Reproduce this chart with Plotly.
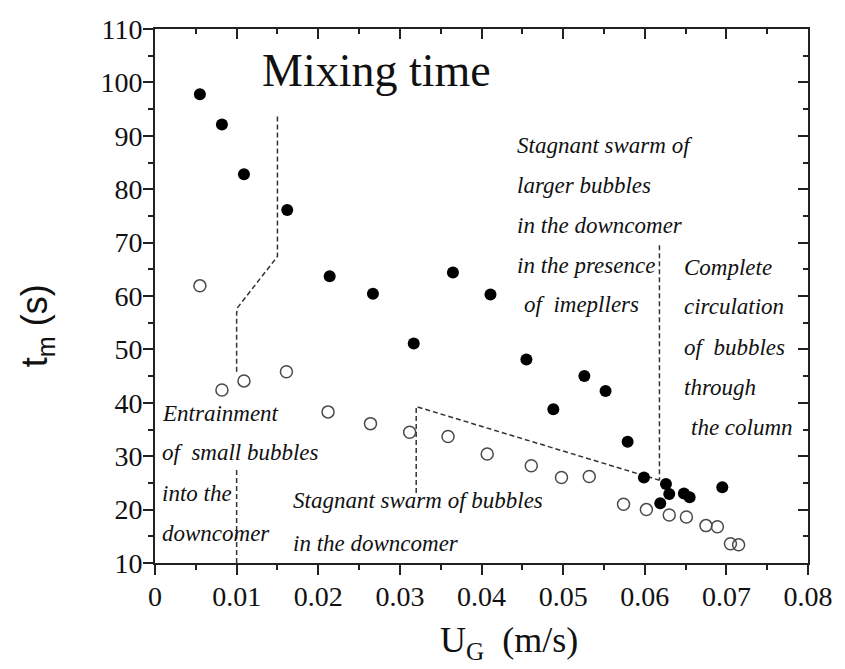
import plotly.graph_objects as go

# ---- data ----
ug_filled = [0.0055, 0.0082, 0.0109, 0.0162, 0.0214, 0.0267, 0.0317, 0.0365, 0.0411, 0.0455,
             0.0488, 0.0526, 0.0552, 0.0579, 0.0599, 0.0619, 0.0626, 0.0630, 0.0648, 0.0655, 0.0695]
tm_filled = [97.8, 92.1, 82.8, 76.1, 63.7, 60.4, 51.1, 64.4, 60.3, 48.1,
             38.8, 45.0, 42.2, 32.7, 26.0, 21.2, 24.8, 22.9, 23.0, 22.3, 24.2]

ug_open = [0.0055, 0.0082, 0.0109, 0.0161, 0.0212, 0.0264, 0.0312, 0.0359, 0.0407, 0.0461,
           0.0498, 0.0532, 0.0574, 0.0602, 0.0630, 0.0651, 0.0675, 0.0689, 0.0705, 0.0715]
tm_open = [61.9, 42.4, 44.1, 45.8, 38.3, 36.1, 34.5, 33.7, 30.4, 28.2,
           26.0, 26.2, 21.0, 20.0, 19.0, 18.6, 17.0, 16.8, 13.6, 13.4]

# regime boundary guide lines (data coordinates)
guide1_x = [0.0150, 0.0150, 0.0101, 0.0100, 0.0100]
guide1_y = [93.6, 67.4, 57.8, 56.8, 45.6]
guide1b_x = [0.0100, 0.0100]
guide1b_y = [27.4, 10.0]
guide2_x = [0.0320, 0.0320, 0.0618]
guide2_y = [23.1, 39.3, 25.5]
guide3_x = [0.0618, 0.0618]
guide3_y = [69.5, 25.5]

x_range = [0, 0.08]
y_range = [10, 110]

fig = go.Figure()

dash_style = dict(color="#333", width=1.5, dash="5px,3px")
for gx, gy in [(guide1_x, guide1_y), (guide1b_x, guide1b_y), (guide2_x, guide2_y), (guide3_x, guide3_y)]:
    fig.add_trace(go.Scatter(x=gx, y=gy, mode="lines", line=dash_style,
                             showlegend=False, hoverinfo="skip"))

fig.add_trace(go.Scatter(x=ug_open, y=tm_open, mode="markers",
                         marker=dict(symbol="circle-open", size=12, color="#4a4a4a",
                                     line=dict(width=1.5, color="#4a4a4a")),
                         showlegend=False))
fig.add_trace(go.Scatter(x=ug_filled, y=tm_filled, mode="markers",
                         marker=dict(symbol="circle", size=12, color="black"),
                         showlegend=False))
# dummy trace for mirrored (top/right) axes
fig.add_trace(go.Scatter(x=[None], y=[None], xaxis="x2", yaxis="y2",
                         showlegend=False, hoverinfo="skip"))

L, R, T, B = 155, 25, 29, 106
W, H = 845, 669
PW, PH = W - L - R, H - T - B


def pp(px, py):
    return (px - L) / PW, (H - B - py) / PH


tick_font = dict(family="Liberation Serif", size=28, color="#111")
axis_common = dict(showgrid=False, zeroline=False, showline=True, linewidth=2, linecolor="#222")

fig.update_layout(
    width=W, height=H,
    margin=dict(l=L, r=R, t=T, b=B),
    paper_bgcolor="white", plot_bgcolor="white",
    xaxis=dict(range=x_range, dtick=0.01, tick0=0, ticks="outside", ticklen=10, tickwidth=2,
               tickcolor="#222", tickfont=tick_font, ticklabelstandoff=-3,
               minor=dict(dtick=0.005, ticks="outside", ticklen=5, tickwidth=2, tickcolor="#222"),
               **axis_common),
    yaxis=dict(range=y_range, dtick=10, tick0=10, ticks="outside", ticklen=10, tickwidth=2,
               tickcolor="#222", tickfont=tick_font, ticklabelstandoff=-5,
               minor=dict(dtick=5, ticks="outside", ticklen=5, tickwidth=2, tickcolor="#222"),
               **axis_common),
    xaxis2=dict(range=x_range, overlaying="x", side="top", dtick=0.01, tick0=0, ticks="inside",
                ticklen=10, tickwidth=2, tickcolor="#222", showticklabels=False,
                minor=dict(dtick=0.005, ticks="inside", ticklen=5, tickwidth=2, tickcolor="#222"),
                **axis_common),
    yaxis2=dict(range=y_range, overlaying="y", side="right", dtick=10, tick0=10, ticks="inside",
                ticklen=10, tickwidth=2, tickcolor="#222", showticklabels=False,
                minor=dict(dtick=5, ticks="inside", ticklen=5, tickwidth=2, tickcolor="#222"),
                **axis_common),
)

annots = []

def add_text(text, px, py, size, family="Liberation Serif", italic=False, xanchor="left", angle=0):
    x, y = pp(px, py)
    annots.append(dict(text=f"<i>{text}</i>" if italic else text, x=x, y=y, xref="paper", yref="paper",
                       xanchor=xanchor, yanchor="middle", showarrow=False, textangle=angle,
                       font=dict(family=family, size=size, color="#111")))

add_text("Mixing time", 381, 71, 46, xanchor="center")

it = 23
for i, s in enumerate(["Stagnant swarm of", "larger bubbles", "in the downcomer", "in the presence"]):
    add_text(s, 522, 145 + 40 * i, it, italic=True)
add_text("of  imepllers", 529, 305, it, italic=True)

for i, s in enumerate(["Complete", "circulation", "of  bubbles", "through"]):
    add_text(s, 692, 267 + 40 * i, it, italic=True)
add_text("the column", 699, 427, it, italic=True)

for i, s in enumerate(["Entrainment", "of  small bubbles", "into the", "downcomer"]):
    add_text(s, 160, 413 + 40 * i, it, italic=True)

add_text("Stagnant swarm of bubbles", 294, 501, it, italic=True)
add_text("in the downcomer", 294, 543, it, italic=True)

# axis titles
add_text("U<sub>G</sub>&nbsp;&nbsp;(m/s)", 516, 642, 36, xanchor="center")
add_text("t<sub>m</sub> (s)", 35, 326, 36, family="Liberation Sans", xanchor="center", angle=-90)

fig.update_layout(annotations=annots)

fig.write_html("out.html")
